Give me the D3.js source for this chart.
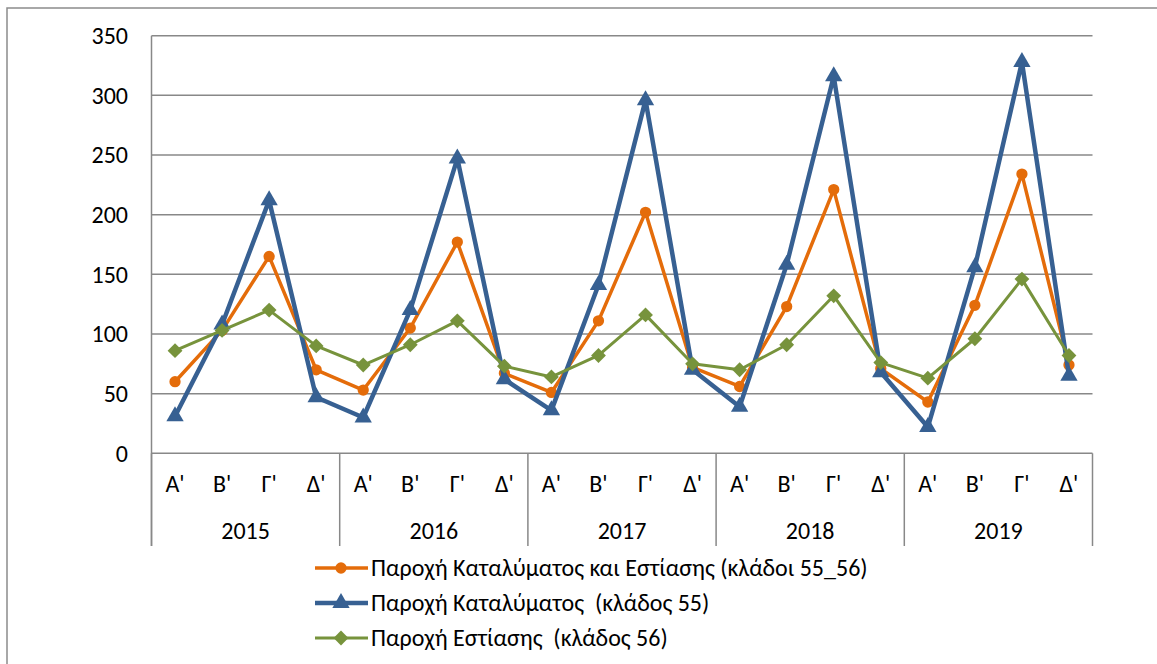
<!DOCTYPE html>
<html><head><meta charset="utf-8">
<script src="https://cdn.jsdelivr.net/npm/d3@7"></script>
<style>
body{margin:0;background:#fff;}
text{font-family:Carlito, Calibri, "Liberation Sans", sans-serif;fill:#000;white-space:pre;}
</style></head>
<body><svg id="c" width="1157" height="664"></svg>
<script>
const years = ["2015","2016","2017","2018","2019"];
const quarters = ["Α'","Β'","Γ'","Δ'"];
const yTicks = [0,50,100,150,200,250,300,350];
const seriesNames = ["Παροχή Καταλύματος και Εστίασης (κλάδοι 55_56)","Παροχή Καταλύματος  (κλάδος 55)","Παροχή Εστίασης  (κλάδος 56)"];
const accomFood = [60,103,165,70, 53,105,177,67, 51,111,202,72, 56,123,221,71, 43,124,234,74];
const accom     = [31,108,212,47, 30,120,247,62, 36,141,296,70, 39,158,316,68, 22,156,328,65];
const food      = [86,103,120,90, 74,91,111,73, 64,82,116,75, 70,91,132,76, 63,96,146,82];
const colors = ["#E46C0A","#376092","#77933C"];

const svg = d3.select("#c");
const L=151.5, R=1092.5, T=35.7, B=453.3;
const cats = [];
years.forEach(y=>quarters.forEach(q=>cats.push(y+"|"+q)));
const x = d3.scaleBand().domain(cats).range([L,R]);
const xYear = d3.scaleBand().domain(years).range([L,R]);
const y = d3.scaleLinear().domain([0,350]).range([B,T]);
const FS = "24px";

// outer border
svg.append("path").attr("d","M7,664 V8 H1157").attr("fill","none").attr("stroke","#8c8c8c").attr("stroke-width",1.5);

// gridlines
svg.append("g").selectAll("line").data(yTicks).join("line")
  .attr("x1",L).attr("x2",R).attr("y1",d=>y(d)).attr("y2",d=>y(d))
  .attr("stroke","#888").attr("stroke-width",1.5);
// y axis line
svg.append("line").attr("x1",L).attr("x2",L).attr("y1",T).attr("y2",546).attr("stroke","#888").attr("stroke-width",1.5);
// y labels
svg.append("g").selectAll("text").data(yTicks).join("text")
  .attr("x",128).attr("y",d=>y(d)).attr("dy","0.35em").attr("text-anchor","end")
  .style("font-size",FS).text(d=>d);
// category separators
svg.append("g").selectAll("line").data(years.concat(["end"])).join("line")
  .attr("x1",d=>d==="end"?R:xYear(d)).attr("x2",d=>d==="end"?R:xYear(d))
  .attr("y1",B).attr("y2",546).attr("stroke","#888").attr("stroke-width",1.5);
// quarter labels
svg.append("g").selectAll("text").data(cats).join("text")
  .attr("x",d=>x(d)+x.bandwidth()/2).attr("y",484).attr("dy","0.35em").attr("text-anchor","middle")
  .style("font-size",FS).text(d=>d.split("|")[1]);
svg.append("g").selectAll("text").data(years).join("text")
  .attr("x",d=>xYear(d)+xYear.bandwidth()/2).attr("y",531).attr("dy","0.35em").attr("text-anchor","middle")
  .style("font-size",FS).text(d=>d);

const data = [accomFood, accom, food];
const widths = [3.5,4.5,3];
const line = d3.line().x((d,i)=>x(cats[i])+x.bandwidth()/2).y(d=>y(d));
const diamond = {draw(ctx,size){const r=Math.sqrt(size/2);ctx.moveTo(0,-r);ctx.lineTo(r,0);ctx.lineTo(0,r);ctx.lineTo(-r,0);ctx.closePath();}};
const sym = [d3.symbol().type(d3.symbolCircle).size(100), d3.symbol().type(d3.symbolTriangle).size(130), d3.symbol().type(diamond).size(110)];

data.forEach((s,k)=>{
  const g = svg.append("g");
  g.append("path").datum(s).attr("d",line).attr("fill","none").attr("stroke",colors[k]).attr("stroke-width",widths[k]).attr("stroke-linejoin","round");
  g.selectAll("path.m").data(s).join("path").attr("class","m")
    .attr("transform",(d,i)=>`translate(${x(cats[i])+x.bandwidth()/2},${y(d)})`)
    .attr("d",sym[k]()).attr("fill",colors[k]);
});

// legend
const legY = [568,603,638];
seriesNames.forEach((n,k)=>{
  const g = svg.append("g").attr("transform",`translate(0,${legY[k]})`);
  g.append("line").attr("x1",315).attr("x2",368).attr("y1",0).attr("y2",0).attr("stroke",colors[k]).attr("stroke-width",widths[k]);
  g.append("path").attr("transform","translate(341,0)").attr("d",sym[k]()).attr("fill",colors[k]);
  g.append("text").attr("x",371).attr("y",0).attr("dy","0.35em").style("font-size",FS).text(n);
});
</script></body></html>
